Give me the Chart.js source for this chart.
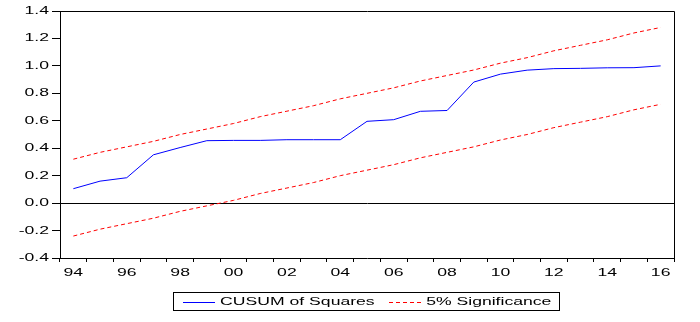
<!DOCTYPE html>
<html>
<head>
<meta charset="utf-8">
<script src="https://cdn.jsdelivr.net/npm/chart.js@4/dist/chart.umd.min.js"></script>
<style>
  html, body { margin: 0; padding: 0; background: #ffffff; }
  #wrap { width: 700px; height: 322px; position: relative; }
</style>
</head>
<body>
<div id="wrap"><canvas id="c"></canvas></div>
<script>
// ---- data ----
const years = ['1994','1995','1996','1997','1998','1999','2000','2001','2002','2003','2004','2005',
               '2006','2007','2008','2009','2010','2011','2012','2013','2014','2015','2016'];
const tickLabels = ['94','96','98','00','02','04','06','08','10','12','14','16'];
const cusumSq = [0.105, 0.160, 0.185, 0.352, 0.405, 0.455, 0.457, 0.457, 0.462, 0.462, 0.462, 0.596,
                 0.608, 0.669, 0.675, 0.882, 0.940, 0.969, 0.980, 0.982, 0.986, 0.987, 1.000];
const upper5 = [0.32, 0.37, 0.41, 0.45, 0.50, 0.54, 0.58, 0.63, 0.67, 0.71, 0.76, 0.80,
                0.84, 0.89, 0.93, 0.97, 1.02, 1.06, 1.11, 1.15, 1.19, 1.24, 1.28];
const lower5 = [-0.24, -0.19, -0.15, -0.11, -0.06, -0.02, 0.02, 0.07, 0.11, 0.15, 0.20, 0.24,
                0.28, 0.33, 0.37, 0.41, 0.46, 0.50, 0.55, 0.59, 0.63, 0.68, 0.72];
const yTicks = [-0.4, -0.2, 0.0, 0.2, 0.4, 0.6, 0.8, 1.0, 1.2, 1.4];

const FONT = { family: '"Liberation Sans", Arial, sans-serif', size: 11 };
const SAMPLE_W = 32;

// The reference's lettering is horizontally widened; reproduce that on the text drawing.
const TEXT_SX = 1.6;
const canvas = document.getElementById('c');
const ctx2d = canvas.getContext('2d');
const protoFill = CanvasRenderingContext2D.prototype.fillText;
const protoMeasure = CanvasRenderingContext2D.prototype.measureText;
ctx2d.fillText = function(text, x, y, maxWidth) {
  this.save();
  this.translate(x, y);
  this.scale(TEXT_SX, 1);
  if (maxWidth !== undefined && maxWidth !== null) protoFill.call(this, text, 0, 0, maxWidth / TEXT_SX);
  else protoFill.call(this, text, 0, 0);
  this.restore();
};
ctx2d.measureText = function(text) {
  const m = protoMeasure.call(this, text);
  return {
    width: m.width * TEXT_SX,
    actualBoundingBoxLeft: m.actualBoundingBoxLeft * TEXT_SX,
    actualBoundingBoxRight: m.actualBoundingBoxRight * TEXT_SX,
    actualBoundingBoxAscent: m.actualBoundingBoxAscent,
    actualBoundingBoxDescent: m.actualBoundingBoxDescent,
    fontBoundingBoxAscent: m.fontBoundingBoxAscent,
    fontBoundingBoxDescent: m.fontBoundingBoxDescent
  };
};

const framePlugin = {
  id: 'frame',
  afterDraw(chart) {
    const ctx = chart.ctx;
    const a = chart.chartArea;
    ctx.save();
    ctx.strokeStyle = '#000';
    ctx.lineWidth = 1;
    ctx.setLineDash([]);
    ctx.beginPath();
    ctx.moveTo(Math.round(a.left) + 0.5, Math.round(a.top) + 0.5);
    ctx.lineTo(Math.round(a.right) + 0.5, Math.round(a.top) + 0.5);
    ctx.lineTo(Math.round(a.right) + 0.5, Math.round(a.bottom) + 0.5);
    ctx.stroke();
    const lg = chart.legend;
    const hb = lg && lg.legendHitBoxes;
    if (hb && hb.length) {
      let l = Infinity, r = -Infinity, t = Infinity, b = -Infinity;
      hb.forEach(h => {
        l = Math.min(l, h.left); r = Math.max(r, h.left + h.width);
        t = Math.min(t, h.top); b = Math.max(b, h.top + h.height);
      });
      // legend frame
      ctx.strokeRect(Math.round(l - 10) + 0.5, Math.round(t - 4) + 0.5,
                     Math.round(r - l + 17), Math.round(b - t + 7));
      // legend line samples in the series' own colours and dash
      hb.forEach((h, i) => {
        const item = lg.legendItems[i];
        const ds = chart.data.datasets[item.datasetIndex];
        const y = Math.round(h.top + FONT.size / 2) + 0.5;
        ctx.fillStyle = '#fff';
        ctx.fillRect(h.left - 1, y - 2, SAMPLE_W + 2, 4);
        ctx.strokeStyle = ds.borderColor;
        ctx.lineWidth = 1;
        ctx.setLineDash(ds.borderDash || []);
        ctx.lineDashOffset = 0;
        ctx.beginPath();
        ctx.moveTo(Math.round(h.left), y);
        ctx.lineTo(Math.round(h.left) + SAMPLE_W, y);
        ctx.stroke();
      });
    }
    ctx.restore();
  }
};

new Chart(canvas, {
  type: 'line',
  data: {
    labels: years,
    datasets: [
      { label: 'CUSUM of Squares', data: cusumSq, borderColor: '#0000ff', backgroundColor: '#0000ff',
        borderWidth: 1, pointRadius: 0, tension: 0, fill: false },
      { label: '5% Significance', data: upper5, borderColor: '#ff0000', backgroundColor: '#ff0000',
        borderWidth: 1, borderDash: [4, 3], pointRadius: 0, tension: 0, fill: false },
      { label: '5% Significance', data: lower5, borderColor: '#ff0000', backgroundColor: '#ff0000',
        borderWidth: 1, borderDash: [4, 3], pointRadius: 0, tension: 0, fill: false }
    ]
  },
  options: {
    responsive: true,
    maintainAspectRatio: false,
    animation: false,
    layout: { padding: { left: 0, right: 26, top: 11, bottom: 5 } },
    plugins: {
      tooltip: { enabled: false },
      legend: {
        position: 'bottom',
        fullSize: false,
        labels: {
          font: FONT, color: '#000',
          usePointStyle: true, pointStyle: 'line', pointStyleWidth: SAMPLE_W,
          padding: 14,
          generateLabels: (chart) => {
            const items = Chart.defaults.plugins.legend.labels.generateLabels(chart);
            return items.filter(it => it.datasetIndex !== 2).map(it => {
              const ds = chart.data.datasets[it.datasetIndex];
              it.strokeStyle = ds.borderColor;
              it.fillStyle = ds.borderColor;
              it.lineDash = ds.borderDash || [];
              it.lineWidth = 0;
              it.pointStyle = 'line';
              return it;
            });
          }
        }
      }
    },
    scales: {
      x: {
        type: 'category',
        offset: true,
        border: { color: '#000', width: 1 },
        grid: { offset: true, drawOnChartArea: false, color: '#000', tickColor: '#000', tickLength: 4 },
        ticks: {
          autoSkip: false, maxRotation: 0, minRotation: 0, color: '#000', font: FONT, padding: 4,
          callback: function(v, i) {
            const s = years[i].slice(2);
            return tickLabels.includes(s) ? s : '';
          }
        },
        afterFit: (s) => { s.height = 24; }
      },
      y: {
        min: -0.4, max: 1.4,
        border: { color: '#000', width: 1 },
        grid: {
          drawOnChartArea: true,
          color: (c) => (c.tick && Math.abs(c.tick.value) < 1e-9) ? '#000' : 'rgba(0,0,0,0)',
          tickColor: '#000', tickLength: 8
        },
        afterBuildTicks: (s) => { s.ticks = yTicks.map(v => ({ value: v })); },
        ticks: {
          color: '#000', font: FONT, padding: 3,
          callback: (v) => Number(v).toFixed(1)
        },
        afterFit: (s) => { s.width = 60; }
      }
    }
  },
  plugins: [framePlugin]
});
</script>
</body>
</html>
